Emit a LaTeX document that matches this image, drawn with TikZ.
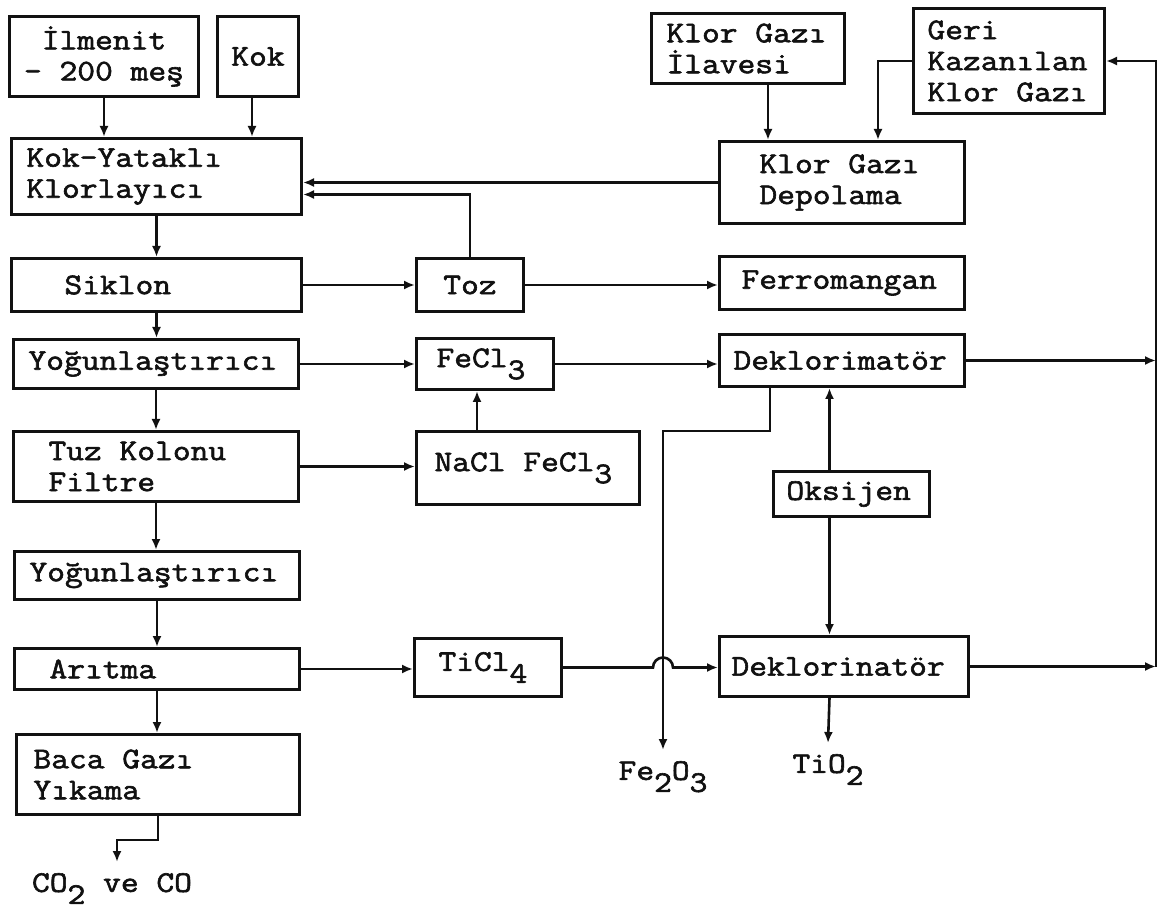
\documentclass[tikz,border=0pt]{standalone}
\usepackage{fontspec}
\setmainfont{Latin Modern Mono}[FakeStretch=1.15, FakeBold=2]
\usetikzlibrary{arrows.meta, calc}
\definecolor{ink}{HTML}{111111}
\newcommand{\dn}[1]{\raisebox{-0.4em}{#1}}

\begin{document}
\begin{tikzpicture}[x=1pt, y=-1pt, >={Latex[length=11pt, width=9pt]},
  plantbox/.style={draw=ink, text=ink, line width=3pt, anchor=north west,
    align=left, inner ysep=0pt, font=\fontsize{30}{31}\selectfont,
    execute at begin node={\spaceskip=\fontdimen2\font\xspaceskip=\fontdimen2\font\relax}},
  pipe/.style={draw=ink, line width=2.6pt, ->},
  outlabel/.style={text=ink, inner xsep=2pt, inner ysep=11pt, anchor=north,
    font=\fontsize{30}{31}\selectfont}]

% Background
\useasboundingbox (0,0) rectangle (1163,909);
\fill[white] (0,0) rectangle (1163,909);

% --- Raw materials ---
\node[plantbox, align=center, inner xsep=0pt, minimum width=189pt, minimum height=80pt]
  (ilm) at (8,15) {İlmenit\\- 200 meş};
\node[plantbox, align=center, inner xsep=0pt, minimum width=81pt, minimum height=80pt]
  (kok) at (216,15) {Kok};

% --- Left column: chlorination train ---
\node[plantbox, text width=260pt, inner xsep=15pt, minimum height=76pt]
  (klor) at (10,137) {Kok-Yataklı\\Klorlayıcı};
\node[plantbox, text width=184pt, inner xsep=53pt, minimum height=53pt]
  (sik) at (10,257) {Siklon};
\node[plantbox, text width=255pt, inner xsep=15pt, minimum height=49pt]
  (yog1) at (12,338) {Yoğunlaştırıcı};
\node[plantbox, text width=215pt, inner xsep=35pt, minimum height=70pt]
  (tuz) at (12,430) {Tuz Kolonu\\Filtre};
\node[plantbox, text width=255pt, inner xsep=15pt, minimum height=48pt]
  (yog2) at (13,550) {Yoğunlaştırıcı};
\node[plantbox, text width=215pt, inner xsep=35pt, minimum height=41pt]
  (arit) at (13,647) {Arıtma};
\node[plantbox, text width=249pt, inner xsep=17pt, minimum height=80pt]
  (baca) at (15,733) {Baca Gazı\\Yıkama};

% --- Middle column ---
\node[plantbox, align=center, inner xsep=0pt, minimum width=107pt, minimum height=53pt]
  (toz) at (415,257) {Toz};
\node[plantbox, text width=97pt, inner xsep=20pt, minimum height=51pt]
  (fecl) at (415,337) {FeCl\dn{3}};
\node[plantbox, text width=187pt, inner xsep=18pt, minimum height=73pt]
  (nacl) at (415,430) {NaCl FeCl\dn{3}};
\node[plantbox, text width=99pt, inner xsep=24pt, minimum height=58pt]
  (ticl) at (413,637) {TiCl\dn{4}};

% --- Right column: chlorine loop ---
\node[plantbox, text width=163pt, inner xsep=15pt, minimum height=70pt]
  (ilave) at (650,12) {Klor Gazı\\İlavesi};
\node[plantbox, text width=163pt, inner xsep=14pt, minimum height=105pt]
  (geri) at (912,7) {Geri\\Kazanılan\\Klor Gazı};
\node[plantbox, text width=165pt, inner xsep=40pt, minimum height=82pt]
  (depo) at (718,140) {Klor Gazı\\Depolama};
\node[plantbox, text width=201pt, inner xsep=22pt, minimum height=53pt]
  (ferro) at (718,255) {Ferromangan};
\node[plantbox, text width=217pt, inner xsep=14pt, minimum height=52pt]
  (dek1) at (718,333) {Deklorimatör};
\node[plantbox, text width=130pt, inner xsep=13pt, minimum height=45pt]
  (oks) at (772,470) {Oksijen};
\node[plantbox, text width=225pt, inner xsep=12pt, minimum height=60pt]
  (dek2) at (718,635) {Deklorinatör};

% Products
\node[outlabel] (feo) at (663,750) {Fe\dn{2}O\dn{3}};
\node[outlabel] (tio) at (828,743) {TiO\dn{2}};
\node[outlabel] (co) at (112,862) {CO\dn{2} ve CO};
\coordinate (back) at ([xshift=50pt]geri.east);

% Feed into the chlorinator
\draw[pipe] (ilm.south) -- (ilm.south |- klor.north);
\draw[pipe] ([xshift=-6pt]kok.south) -- ([xshift=-6pt]kok.south |- klor.north);
\draw[pipe] (depo.west) -- (depo.west -| klor.east);
\draw[pipe] (toz.north) |- ([yshift=-18pt]klor.east);

% Chlorine gas
\draw[pipe] ([xshift=20pt]ilave.south) -- ([xshift=20pt]ilave.south |- depo.north);
\draw[pipe] (geri.west) -| ([xshift=36pt]depo.north);

% Main column
\foreach \a/\b in {klor/sik, sik/yog1, yog1/tuz, tuz/yog2, yog2/arit, arit/baca} {
  \draw[pipe] (\a.south) -- (\a.south |- \b.north);
}

% Side streams
\draw[pipe] (sik.east) -- (sik.east -| toz.west);
\draw[pipe] (toz.east) -- (toz.east -| ferro.west);
\draw[pipe] (yog1.east) -- (yog1.east -| fecl.west);
\draw[pipe] (fecl.east) -- (fecl.east -| dek1.west);
\draw[pipe] (tuz.east) -- (tuz.east -| nacl.west);
\draw[pipe] ([xshift=-8pt]fecl.south |- nacl.north) -- ([xshift=-8pt]fecl.south);
\draw[pipe] (arit.east) -- (arit.east -| ticl.west);
\draw[pipe] (ticl.east) -- ([xshift=-10pt]ticl.east -| feo.north)
  arc[start angle=180, end angle=0, radius=10pt] -- (ticl.east -| dek2.west);

% Oxygen and products
\draw[pipe] ([xshift=-72pt]dek1.south) -- ++(0,43) -| (feo.north);
\draw[pipe] ([xshift=-22pt]oks.north) -- ([xshift=-22pt]oks.north |- dek1.south);
\draw[pipe] ([xshift=-22pt]oks.south) -- ([xshift=-22pt]oks.south |- dek2.north);
\draw[pipe] ([xshift=-22pt]oks.south |- dek2.south) -- (tio.north);
\draw[pipe] (baca.south) -- ++(0,24) -| ([xshift=5pt]co.north);

% Recycle of chlorine
\draw[pipe] (dek1.east) -- (dek1.east -| back);
\draw[pipe] (dek2.east) -- (dek2.east -| back);
\draw[pipe] (dek2.east -| back) -- (back) -- (geri.east);

\end{tikzpicture}
\end{document}
